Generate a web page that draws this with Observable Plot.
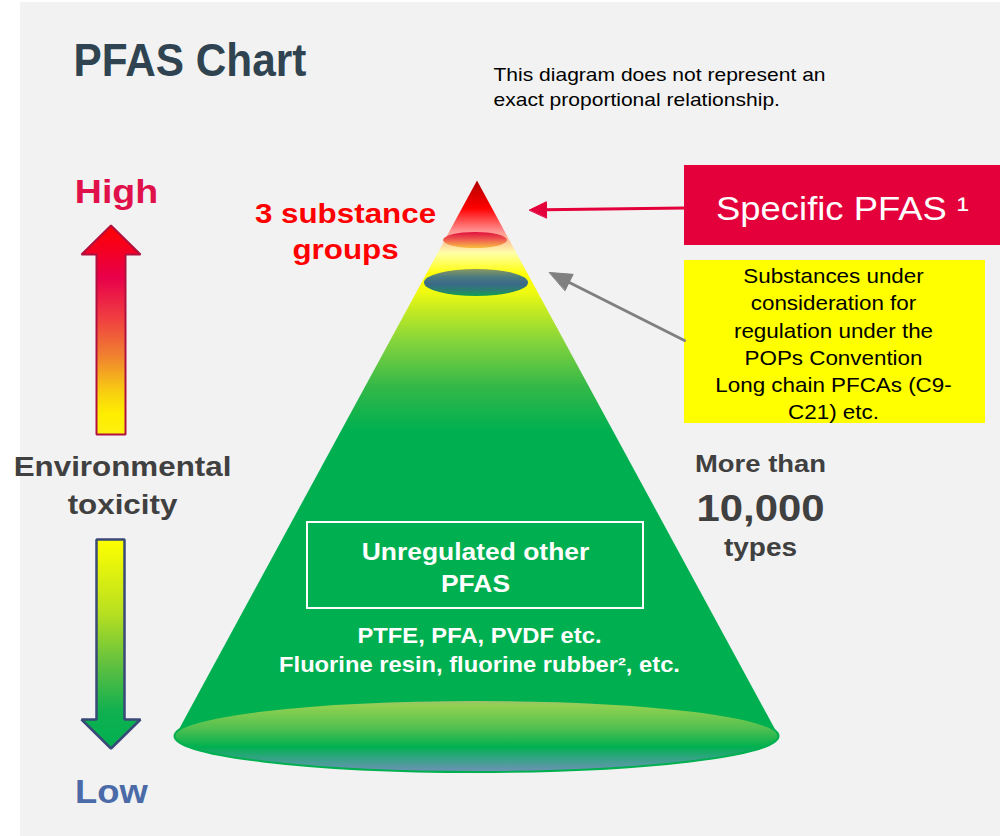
<!DOCTYPE html>
<html><head><meta charset="utf-8">
<script src="https://cdn.jsdelivr.net/npm/d3@7"></script>
<script src="https://cdn.jsdelivr.net/npm/@observablehq/plot@0.6"></script>
<style>html,body{margin:0;padding:0;background:#fff;} #chart svg{display:block}</style>
</head><body><div id="chart"></div>
<script>
// ---------- DATA (texts / categories) ----------
const titleText = "PFAS Chart";
const noteLines = ["This diagram does not represent an", "exact proportional relationship."];
const scaleEnds = ["High", "Low"];
const axisLines = ["Environmental", "toxicity"];
const topGroupLines = ["3 substance", "groups"];
const tiers = ["Specific PFAS", "POPs candidates", "Unregulated other PFAS"];
const specificLabel = "Specific PFAS \u00B9";
const popsLines = ["Substances under", "consideration for", "regulation under the", "POPs Convention", "Long chain PFCAs (C9-", "C21) etc."];
const countLines = ["More than", "10,000", "types"];
const unregLines = ["Unregulated other", "PFAS"];
const exampleLines = ["PTFE, PFA, PVDF etc.", "Fluorine resin, fluorine rubber\u00B2, etc."];

// ---------- LAYOUT ----------
const W = 1000, H = 836;
const FONT = "'Liberation Sans', Arial, Helvetica, sans-serif";
const STRETCH = 1.12;
const cone = {cx: 476.5, apexY: 180, baseY: 736, rx: 302, ry: 36};
const tierEllipses = [
  {tier: tiers[0], cx: 475, cy: 240, rx: 32, ry: 8, fill: "url(#gTop)", stroke: "none", sw: 0},
  {tier: tiers[1], cx: 476, cy: 282.5, rx: 52, ry: 13.5, fill: "url(#gMid)", stroke: "none", sw: 0},
  {tier: tiers[2], cx: cone.cx, cy: cone.baseY, rx: cone.rx, ry: cone.ry, fill: "url(#gBase)", stroke: "#00b050", sw: 2}
];
const conePts = [
  {x: cone.cx, y: cone.apexY},
  {x: cone.cx + cone.rx, y: cone.baseY},
  {x: cone.cx - cone.rx, y: cone.baseY}
];
const upArrow = [
  {x:110.5,y:225},{x:140,y:254},{x:125,y:254},{x:125,y:434},{x:96,y:434},{x:96,y:254},{x:81,y:254}
];
const downArrow = [
  {x:96,y:539},{x:124,y:539},{x:124,y:719},{x:140,y:719},{x:110.5,y:748},{x:81,y:719},{x:96,y:719}
];
function arrowParts(a) {
  const dx = a.x2 - a.x1, dy = a.y2 - a.y1, d = Math.hypot(dx, dy), ux = dx / d, uy = dy / d;
  const bx = a.x2 - ux * a.len, by = a.y2 - uy * a.len, nx = -uy, ny = ux;
  return {
    shaft: [{x: a.x1, y: a.y1}, {x: bx + ux * 2, y: by + uy * 2}],
    head: [{x: a.x2, y: a.y2}, {x: bx + nx * a.w / 2, y: by + ny * a.w / 2}, {x: bx - nx * a.w / 2, y: by - ny * a.w / 2}]
  };
}
const redArrow = arrowParts({x1: 684, y1: 207.5, x2: 529, y2: 209.5, len: 17, w: 16});
const grayArrow = arrowParts({x1: 684, y1: 340, x2: 549, y2: 272, len: 22, w: 18});

function label(lines, x, y, o = {}) {
  return Plot.text([{x, y, t: [].concat(lines).join("\n")}], {
    x: "x", y: "y", text: "t",
    fontSize: o.size || 20, fontWeight: o.weight || "normal",
    fill: o.fill || "#000", textAnchor: o.anchor || "middle",
    lineAnchor: "middle", lineHeight: o.lh || 1.2,
    ariaLabel: () => o.aria || "label"
  });
}

const ellipseMark = (index, scales) => {
  const sx = scales && scales.x ? scales.x : (v => v);
  const sy = scales && scales.y ? scales.y : (v => v);
  const g = d3.create("svg:g").attr("aria-label", "tier-ellipses");
  for (const e of tierEllipses) {
    g.append("ellipse")
      .attr("cx", sx(e.cx)).attr("cy", sy(e.cy))
      .attr("rx", sx(e.cx + e.rx) - sx(e.cx)).attr("ry", sy(e.cy + e.ry) - sy(e.cy))
      .attr("fill", e.fill).attr("stroke", e.stroke).attr("stroke-width", e.sw);
  }
  return g.node();
};

const plot = Plot.plot({
  width: W, height: H, margin: 0,
  x: {domain: [0, W], range: [0, W], axis: null},
  y: {domain: [0, H], range: [0, H], axis: null},
  style: {fontFamily: FONT, background: "white", overflow: "visible"},
  marks: [
    Plot.rect([{x1: 20, x2: W, y1: 2, y2: H}], {x1: "x1", x2: "x2", y1: "y1", y2: "y2", fill: "#f2f2f2"}),
    // cone
    Plot.line(conePts, {x: "x", y: "y", curve: "linear-closed", fill: "url(#gCone)", stroke: "none"}),
    ellipseMark,
    // inner box
    Plot.rect([{x1: 307, x2: 643, y1: 522, y2: 608}], {x1: "x1", x2: "x2", y1: "y1", y2: "y2", fill: "none", stroke: "white", strokeWidth: 2}),
    // toxicity arrows
    Plot.line(upArrow, {x: "x", y: "y", curve: "linear-closed", fill: "url(#gUp)", stroke: "#b0103e", strokeWidth: 2, strokeLinejoin: "miter"}),
    Plot.line(downArrow, {x: "x", y: "y", curve: "linear-closed", fill: "url(#gDown)", stroke: "#3a4a78", strokeWidth: 2.5, strokeLinejoin: "miter"}),
    // callout boxes
    Plot.rect([{x1: 684, x2: W, y1: 165, y2: 245}], {x1: "x1", x2: "x2", y1: "y1", y2: "y2", fill: "#e4003a"}),
    Plot.rect([{x1: 684, x2: 985, y1: 260, y2: 423}], {x1: "x1", x2: "x2", y1: "y1", y2: "y2", fill: "#ffff00"}),
    // pointer arrows
    Plot.line(redArrow.shaft, {x: "x", y: "y", stroke: "#e4003a", strokeWidth: 3}),
    Plot.line(redArrow.head, {x: "x", y: "y", curve: "linear-closed", fill: "#e4003a", stroke: "#e4003a", strokeWidth: 1}),
    Plot.line(grayArrow.shaft, {x: "x", y: "y", stroke: "#808080", strokeWidth: 3}),
    Plot.line(grayArrow.head, {x: "x", y: "y", curve: "linear-closed", fill: "#808080", stroke: "#808080", strokeWidth: 1}),
    // texts
    label(titleText, 73, 58, {size: 46, weight: "bold", fill: "#2f4450", anchor: "start", aria: "title"}),
    label(noteLines, 493, 84.5, {size: 18.8, anchor: "start", lh: 1.33}),
    label(scaleEnds[0], 116, 190, {size: 33.5, weight: "bold", fill: "#e0104a"}),
    label(scaleEnds[1], 111, 790, {size: 32.5, weight: "bold", fill: "#4a6aa8"}),
    label(axisLines, 122, 482, {size: 28, weight: "bold", fill: "#404040", lh: 1.36}),
    label(topGroupLines, 345, 229, {size: 28, weight: "bold", fill: "#ff0000", lh: 1.29}),
    label(specificLabel, 842, 207, {size: 32.5, fill: "#ffffff"}),
    label(popsLines, 833, 342, {size: 20, fill: "#000000", lh: 1.36}),
    label(countLines[0], 760, 462, {size: 24.5, weight: "bold", fill: "#404040"}),
    label(countLines[1], 760, 506, {size: 37.4, weight: "bold", fill: "#404040"}),
    label(countLines[2], 760, 546, {size: 25, weight: "bold", fill: "#404040"}),
    label(unregLines, 475, 565, {size: 23.6, weight: "bold", fill: "#ffffff", lh: 1.36}),
    label(exampleLines, 479, 647.5, {size: 21.2, weight: "bold", fill: "#ffffff", lh: 1.37})
  ]
});

// gradients
const svg = d3.select(plot);
const defs = svg.insert("defs", ":first-child");
function lin(id, stops) {
  const g = defs.append("linearGradient").attr("id", id)
    .attr("x1", 0).attr("y1", 0).attr("x2", 0).attr("y2", 1);
  for (const [o, c] of stops) g.append("stop").attr("offset", o).attr("stop-color", c);
}
lin("gCone", [[0, "#b00000"], [0.05, "#ff0000"], [0.09, "#ff9090"], [0.13, "#ffffa8"], [0.17, "#ffff00"], [0.2, "#f0fa10"], [0.23, "#c8ec20"], [0.29, "#84d43c"], [0.37, "#34b848"], [0.45, "#00b050"], [1, "#00b050"]]);
lin("gTop", [[0, "#e0103e"], [0.5, "#f06050"], [1, "#f8c040"]]);
lin("gMid", [[0, "#8a9a60"], [0.3, "#4a7a80"], [0.55, "#3a6888"], [0.8, "#2a8070"], [1, "#10a050"]]);
lin("gBase", [[0, "#a0c070"], [0.08, "#90d050"], [0.4, "#50c050"], [0.65, "#00b050"], [0.85, "#40a090"], [1, "#7090b8"]]);
lin("gUp", [[0, "#ff0000"], [0.25, "#e8004a"], [0.45, "#f04040"], [0.62, "#f08030"], [0.8, "#f8d010"], [0.9, "#ffee00"], [1, "#fff010"]]);
lin("gDown", [[0, "#ffff00"], [0.35, "#b8e020"], [0.6, "#60c040"], [0.82, "#10b050"], [1, "#00b050"]]);

// horizontal stretch of text to match reference proportions
svg.selectAll("text").each(function () {
  const el = d3.select(this);
  const isTitle = this.getAttribute("aria-label") === "title" ||
    (this.parentNode && this.parentNode.getAttribute && this.parentNode.getAttribute("aria-label") === "title") ||
    el.text() === titleText;
  const s = isTitle ? 0.92 : STRETCH;
  const t = el.attr("transform") || "";
  el.attr("transform", t + ` scale(${s},1)`);
});

document.getElementById("chart").appendChild(plot);
</script></body></html>
